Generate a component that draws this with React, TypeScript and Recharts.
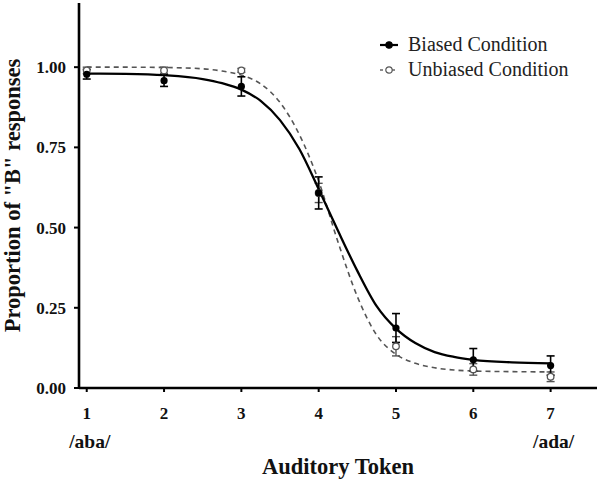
import React from "react";
import {
  ComposedChart, Line, Scatter, ErrorBar, XAxis, YAxis, Label,
} from "recharts";

const FONT = "'Liberation Serif', 'Times New Roman', serif";

const TOKENS = [1, 2, 3, 4, 5, 6, 7];
const BIASED_MEAN = [0.978, 0.958, 0.94, 0.608, 0.187, 0.088, 0.07];
const BIASED_ERR = [0.015, 0.018, 0.03, 0.05, 0.045, 0.035, 0.03];
const UNBIASED_MEAN = [0.99, 0.99, 0.99, 0.608, 0.13, 0.058, 0.035];
const UNBIASED_ERR = [0.01, 0.01, 0.006, 0.03, 0.03, 0.018, 0.015];

// fitted curves
const FIT_X = [1, 1.5, 2, 2.5, 2.75, 3, 3.25, 3.5, 3.75, 4, 4.25, 4.5, 4.75, 5, 5.25, 5.5, 5.75, 6, 6.5, 7];
const BIASED_FIT = [0.98, 0.979, 0.975, 0.963, 0.95, 0.93, 0.895, 0.835, 0.745, 0.62, 0.49, 0.365, 0.255, 0.185, 0.14, 0.112, 0.097, 0.088, 0.08, 0.077];
const UNBIASED_FIT = [1.0, 1.0, 0.999, 0.995, 0.988, 0.975, 0.948, 0.89, 0.79, 0.645, 0.455, 0.285, 0.165, 0.105, 0.077, 0.063, 0.056, 0.053, 0.051, 0.05];

const Y_TICKS = [0, 0.25, 0.5, 0.75, 1];
const END_LABELS: Record<number, string> = { 1: "/aba/", 7: "/ada/" };
const SERIES_NAMES = ["Biased Condition", "Unbiased Condition"];

const biasedPts = TOKENS.map((x, i) => ({ x, y: BIASED_MEAN[i], err: BIASED_ERR[i] }));
const unbiasedPts = TOKENS.map((x, i) => ({ x, y: UNBIASED_MEAN[i], err: UNBIASED_ERR[i] }));
const biasedFit = FIT_X.map((x, i) => ({ x, y: BIASED_FIT[i] }));
const unbiasedFit = FIT_X.map((x, i) => ({ x, y: UNBIASED_FIT[i] }));

function XTick({ x, y, payload }: any) {
  const extra = END_LABELS[payload.value];
  return (
    <g>
      <text x={x} y={y} dy={25} textAnchor="middle" fontFamily={FONT} fontWeight="bold" fontSize={17} fill="#111">
        {payload.value}
      </text>
      {extra && (
        <text x={x + 3} y={y} dy={54} textAnchor="middle" fontFamily={FONT} fontWeight="bold" fontSize={19.5} fill="#111">
          {extra}
        </text>
      )}
    </g>
  );
}

function LegendBox() {
  return (
    <div style={{ position: "absolute", left: 379, top: 32, fontFamily: FONT, fontSize: 20, lineHeight: "25px", color: "#222" }}>
      {SERIES_NAMES.map((name, i) => {
        const dashed = i === 1;
        return (
          <div key={name} style={{ display: "flex", alignItems: "center" }}>
            <svg width={22} height={12} style={{ marginRight: 7 }}>
              <line x1={1} y1={6} x2={19} y2={6} stroke={dashed ? "#666" : "#000"}
                strokeWidth={dashed ? 1.3 : 2.2} strokeDasharray={dashed ? "3 3" : undefined} />
              <circle cx={10} cy={6} r={3.2} fill={dashed ? "#fff" : "#000"} stroke={dashed ? "#555" : "#000"} strokeWidth={1.2} />
            </svg>
            <span>{name}</span>
          </div>
        );
      })}
    </div>
  );
}

export default function App() {
  return (
    <div style={{ position: "absolute", left: 0, top: 0, width: 600, height: 479, background: "#fff" }}>
      <ComposedChart width={600} height={479} margin={{ top: 3, right: 3, bottom: 0, left: 0 }}>
        <XAxis
          type="number" dataKey="x" domain={[0.9, 7.6]} ticks={TOKENS} allowDataOverflow
          height={91} tick={<XTick />} tickSize={4} tickMargin={2}
          axisLine={{ stroke: "#000", strokeWidth: 2.6 }} tickLine={{ stroke: "#000", strokeWidth: 2 }}
        >
          <Label value="Auditory Token" position="insideBottom" offset={5}
            style={{ fontFamily: FONT, fontWeight: "bold", fontSize: 22.5, fill: "#111" }} />
        </XAxis>
        <YAxis
          type="number" dataKey="y" domain={[0, 1.2]} ticks={Y_TICKS} width={79}
          tickFormatter={(v: number) => v.toFixed(2)} tickSize={5} tickMargin={8}
          tick={{ fontFamily: FONT, fontWeight: "bold", fontSize: 17, fill: "#111" }}
          axisLine={{ stroke: "#000", strokeWidth: 2.6 }} tickLine={{ stroke: "#000", strokeWidth: 2 }}
        >
          <Label value={'Proportion of "B" responses'} angle={-90} position="insideLeft" offset={12}
            style={{ textAnchor: "middle", fontFamily: FONT, fontWeight: "bold", fontSize: 22.5, fill: "#111" }} />
        </YAxis>
        <Line data={unbiasedFit} dataKey="y" type="monotone" stroke="#555" strokeWidth={1.6}
          strokeDasharray="5 4" dot={false} isAnimationActive={false} />
        <Scatter data={unbiasedPts} dataKey="y" isAnimationActive={false}
          shape={(p: any) => <circle cx={p.cx} cy={p.cy} r={3.3} fill="#fff" stroke="#555" strokeWidth={1.3} />}>
          <ErrorBar dataKey="err" direction="y" width={4} stroke="#555" strokeWidth={1.4} />
        </Scatter>
        <Line data={biasedFit} dataKey="y" type="monotone" stroke="#000" strokeWidth={2.3}
          dot={false} isAnimationActive={false} />
        <Scatter data={biasedPts} dataKey="y" isAnimationActive={false}
          shape={(p: any) => <circle cx={p.cx} cy={p.cy} r={3.6} fill="#000" />}>
          <ErrorBar dataKey="err" direction="y" width={4} stroke="#000" strokeWidth={1.6} />
        </Scatter>
      </ComposedChart>
      <LegendBox />
    </div>
  );
}
